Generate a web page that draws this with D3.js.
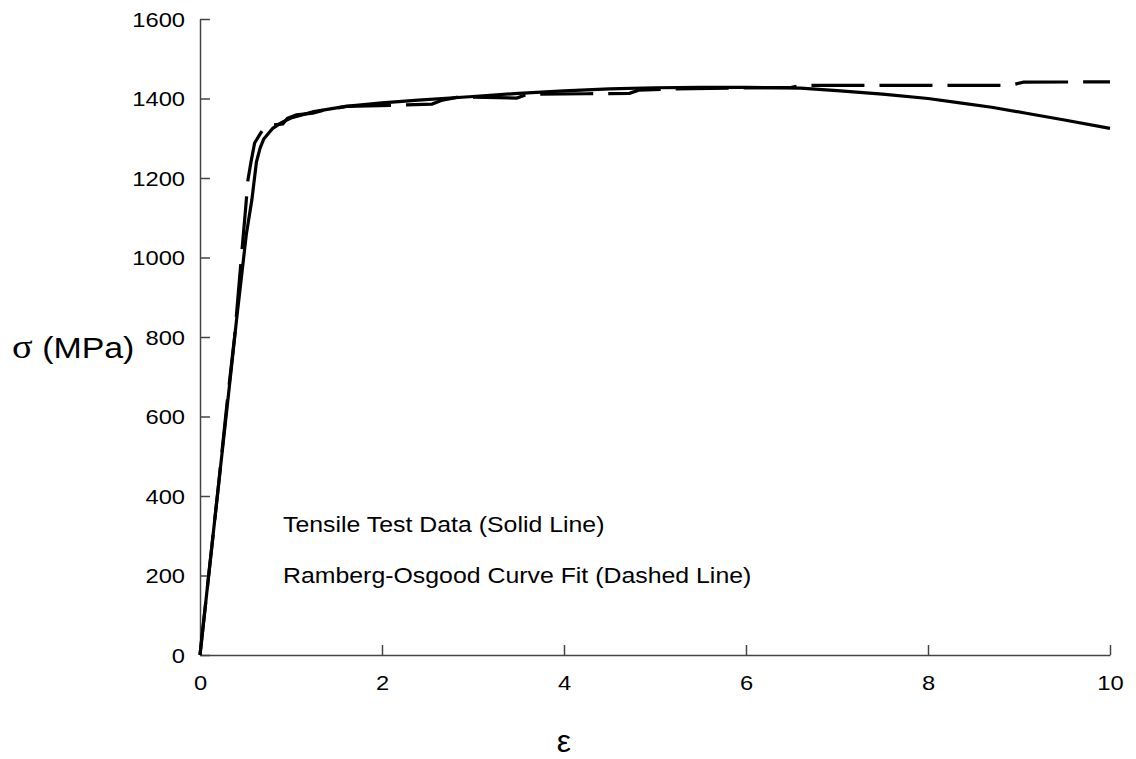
<!DOCTYPE html>
<html>
<head>
<meta charset="utf-8">
<script src="https://cdn.jsdelivr.net/npm/d3@7"></script>
<style>
  body { margin: 0; background: #fff; }
  svg text { font-family: "Liberation Sans", Arial, sans-serif; fill: #000; }
</style>
</head>
<body>
<div class="vis-chart"></div>
<script>
// strain (x) and stress in MPa (y)
const testStrain = [0, 0.1, 0.2, 0.33, 0.4, 0.51, 0.57, 0.62, 0.66, 0.7, 0.8, 0.9, 1.0, 1.25, 1.6, 2.0, 2.4, 3.0, 3.5, 4.0, 4.5, 5.0, 5.5, 6.0, 6.6, 7.0, 7.5, 8.0, 8.35, 8.7, 9.08, 9.5, 10];
const testStress = [0, 210, 420, 691, 840, 1060, 1145, 1240, 1275, 1298, 1325, 1340, 1351, 1367, 1380, 1389, 1396, 1405, 1413, 1419, 1424, 1427, 1428, 1428, 1426, 1420, 1411, 1400, 1389, 1378, 1363, 1346, 1325];

const fitStrain = [0, 0.2, 0.3, 0.38, 0.455, 0.5, 0.527, 0.56, 0.6, 0.656, 0.72, 0.91, 0.96, 1.06, 1.24, 1.35, 1.61, 1.97, 2.55, 2.65, 2.85, 3.48, 3.6, 4.25, 4.72, 4.82, 5.15, 6.5, 6.62, 8.9, 9.05, 10];
const fitStress = [0, 420, 640, 800, 1002, 1120, 1195, 1240, 1288, 1309, 1331, 1336, 1350, 1359, 1363, 1370, 1380, 1382, 1386, 1395, 1404, 1401, 1411, 1412, 1413, 1421, 1424, 1428, 1433, 1433, 1441, 1442];

const xTicks = [0, 2, 4, 6, 8, 10];
const yTicks = [0, 200, 400, 600, 800, 1000, 1200, 1400, 1600];
const notes = ["Tensile Test Data (Solid Line)", "Ramberg-Osgood Curve Fit (Dashed Line)"];

const width = 1136, height = 759;
const margin = { top: 19, right: 26, bottom: 104, left: 200 };
const w = width - margin.left - margin.right;
const h = height - margin.top - margin.bottom;
const stretch = 1.13; // the picture's text is a bit wider than plain Arial

const svg = d3.select(".vis-chart").append("svg")
    .attr("width", width)
    .attr("height", height);

const g = svg.append("g")
    .attr("transform", "translate(" + margin.left + "," + margin.top + ")");

const x = d3.scaleLinear().domain([0, 10]).range([0, w]);
const y = d3.scaleLinear().domain([0, 1600]).range([h, 0]);

// axes, ticks pointing inside
const xAxis = g.append("g")
    .attr("transform", "translate(0," + h + ")")
    .call(d3.axisBottom(x).tickValues(xTicks).tickFormat(d3.format("d")).tickSizeInner(-10).tickSizeOuter(0));
const yAxis = g.append("g")
    .call(d3.axisLeft(y).tickValues(yTicks).tickFormat(d3.format("d")).tickSizeInner(-10).tickSizeOuter(0));

[xAxis, yAxis].forEach(function (a) {
    a.select(".domain").attr("stroke", "#444").attr("stroke-width", 1.5);
    a.selectAll(".tick line").attr("stroke", "#444").attr("stroke-width", 1.5);
    a.selectAll(".tick text")
        .attr("font-family", "Liberation Sans, Arial, sans-serif")
        .attr("font-size", 21)
        .attr("fill", "#000")
        .attr("transform", "scale(" + stretch + ",1)");
});
xAxis.selectAll(".tick text").attr("x", 0).attr("y", 20).attr("dy", "0.71em");
yAxis.selectAll(".tick text").attr("x", -15 / stretch).attr("dy", "0.35em");

const line = d3.line()
    .x(function (d) { return x(d[0]); })
    .y(function (d) { return y(d[1]); });

const testData = testStrain.map(function (v, i) { return [v, testStress[i]]; });
const fitData = fitStrain.map(function (v, i) { return [v, fitStress[i]]; });

g.append("path")
    .datum(fitData)
    .attr("fill", "none")
    .attr("stroke", "#000")
    .attr("stroke-width", 3.2)
    .attr("stroke-dasharray", "53,15")
    .attr("d", line);

g.append("path")
    .datum(testData)
    .attr("fill", "none")
    .attr("stroke", "#000")
    .attr("stroke-width", 3.2)
    .attr("d", line);

// notes inside the plot
g.selectAll(".note")
    .data(notes)
    .enter().append("text")
    .attr("class", "note")
    .attr("transform", function (d, i) {
        return "translate(83," + (513 + i * 51) + ") scale(" + stretch + ",1)";
    })
    .attr("font-size", 22)
    .text(function (d) { return d; });

// axis titles
const yTitle = svg.append("text")
    .attr("transform", "translate(12,358) scale(" + stretch + ",1)")
    .attr("font-size", 30);
yTitle.append("tspan")
    .attr("font-family", "Liberation Serif, Times New Roman, serif")
    .attr("font-size", 34)
    .text("σ");
yTitle.append("tspan").text(" (MPa)");

svg.append("text")
    .attr("x", margin.left + x(4))
    .attr("y", 752)
    .attr("text-anchor", "middle")
    .attr("font-family", "Liberation Serif, Times New Roman, serif")
    .attr("font-size", 32)
    .text("ε");
</script>
</body>
</html>
